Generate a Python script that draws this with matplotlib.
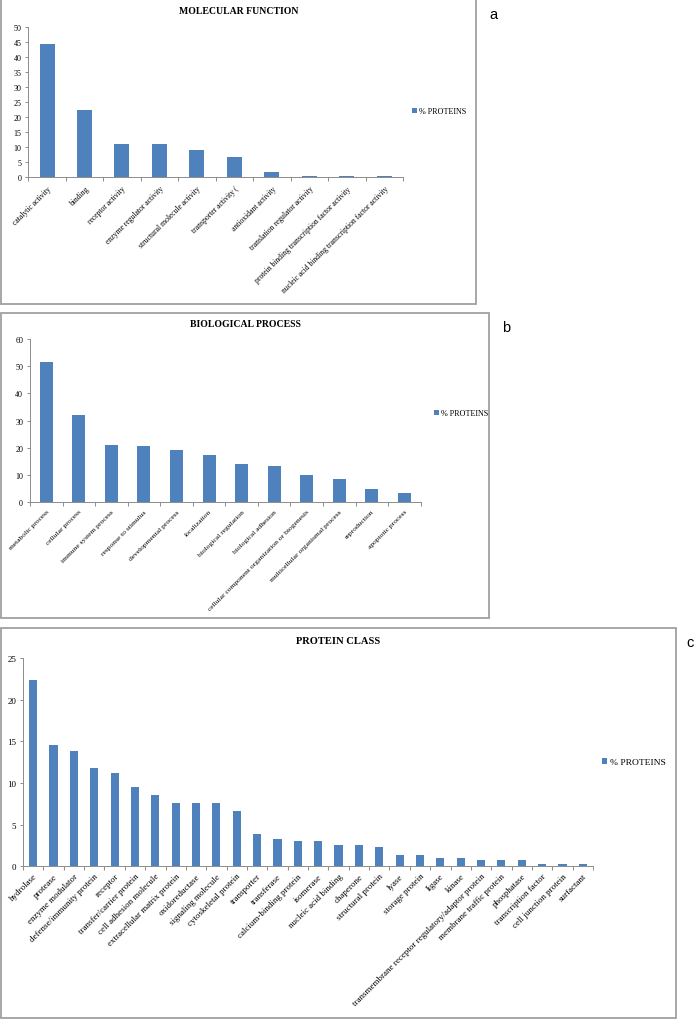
import matplotlib
matplotlib.use("Agg")
import matplotlib.pyplot as plt
from matplotlib.patches import Rectangle
from matplotlib.transforms import Bbox, TransformedBbox
import numpy as np

# ---------------- data ----------------
mf_labels = ["catalytic activity", "binding", "receptor activity",
             "enzyme regulator activity", "structural molecule activity",
             "transporter activity (", "antioxidant activity",
             "translation regulator activity",
             "protein binding transcription factor activity",
             "nucleic acid binding transcription factor activity"]
mf_values = [44.4, 22.4, 11.2, 10.9, 8.9, 6.6, 1.6, 0.4, 0.4, 0.4]

bp_labels = ["metabolic process", "cellular process", "immune system process",
             "response to stimulus", "developmental process", "localization",
             "biological regulation", "biological adhesion",
             "cellular component organization or biogenesis",
             "multicellular organismal process", "reproduction",
             "apoptotic process"]
bp_values = [51.6, 31.9, 21.1, 20.7, 19.1, 17.1, 13.8, 13.2, 9.9, 8.5, 4.7, 3.2]

pc_labels = ["hydrolase", "protease", "enzyme modulator",
             "defense/immunity protein", "receptor", "transfer/carrier protein",
             "cell adhesion molecule", "extracellular matrix protein",
             "oxidoreductase", "signaling molecule", "cytoskeletal protein",
             "transporter", "transferase", "calcium-binding protein",
             "isomerase", "nucleic acid binding", "chaperone",
             "structural protein", "lyase", "storage protein", "ligase",
             "kinase", "transmembrane receptor regulatory/adaptor protein",
             "membrane traffic protein", "phosphatase",
             "transcription factor", "cell junction protein", "surfactant"]
pc_values = [22.4, 14.5, 13.8, 11.8, 11.2, 9.5, 8.6, 7.6, 7.6, 7.6, 6.6,
             3.9, 3.3, 3.0, 3.0, 2.6, 2.6, 2.3, 1.3, 1.3, 1.0, 1.0,
             0.7, 0.7, 0.7, 0.3, 0.3, 0.3]

titles = ["MOLECULAR FUNCTION", "BIOLOGICAL PROCESS", "PROTEIN CLASS"]
legend_label = "% PROTEINS"
panel_letters = ["a", "b", "c"]

# ---------------- layout ----------------
W, H = 695, 1020
fig = plt.figure(figsize=(W / 100, H / 100), dpi=100)
fig.patch.set_facecolor("white")

SERIF = ["Liberation Serif", "DejaVu Serif"]
SANS = ["Liberation Sans", "DejaVu Sans"]
BAR = "#4F81BD"
AXC = "#8c8c8c"
FRAME = "#a0a0a0"


def fx(x):
    return x / W


def fy(y):
    return 1 - y / H


panels = [
    dict(labels=mf_labels, values=mf_values, frame=(0, 0, 477, 305),
         ax=(28.3, 27.7, 403, 178.3), ymax=50, ystep=5, title_y=12,
         letter=(489, 15), legend=(412, 112), tfs=5.5, yfs=5.8, lfs=5.9,
         ttl=7.0, pad=5),
    dict(labels=bp_labels, values=bp_values, frame=(0, 314, 490, 619),
         ax=(30, 340.3, 420.7, 502.7), ymax=60, ystep=10, title_y=325,
         letter=(502, 328), legend=(434, 414), tfs=5.4, yfs=5.8, lfs=5.9,
         ttl=7.0, pad=5),
    dict(labels=pc_labels, values=pc_values, frame=(0, 629, 677, 1019),
         ax=(23, 659, 593, 867.3), ymax=25, ystep=5, title_y=642,
         letter=(686, 643), legend=(602, 763), tfs=6.4, yfs=6.5, lfs=6.8,
         ttl=7.6, pad=4),
]

for i, p in enumerate(panels):
    x0, y0, x1, y1 = p["frame"]
    rect = Rectangle((fx(x0 + 0.7), fy(y1)), fx(x1 - x0 - 1.4), (y1 - y0) / H,
                     transform=fig.transFigure, fill=False, edgecolor=FRAME,
                     linewidth=1.3, zorder=0)
    fig.patches.append(rect)

    ax_l, ax_t, ax_r, ax_b = p["ax"]
    ax = fig.add_axes([fx(ax_l), fy(ax_b), fx(ax_r - ax_l), (ax_b - ax_t) / H])
    n = len(p["labels"])
    x = np.arange(n)
    bars = ax.bar(x, p["values"], width=0.4, color=BAR, label=legend_label,
                  zorder=2)
    ax.set_xlim(-0.5, n - 0.5)
    ax.set_ylim(0, p["ymax"])
    yt = np.arange(0, p["ymax"] + 0.1, p["ystep"])
    ax.set_yticks(yt)
    ax.set_yticklabels([str(int(v)) for v in yt], family=SERIF,
                       fontsize=p["yfs"])
    ax.set_xticks(x)
    ax.set_xticklabels(p["labels"], rotation=45, ha="right",
                       rotation_mode="anchor", family=SERIF, fontsize=p["tfs"])
    ax.set_xticks(np.arange(-0.5, n, 1.0), minor=True)
    ax.tick_params(axis="x", which="major", length=0, pad=p["pad"])
    ax.tick_params(axis="x", which="minor", length=3, color=AXC, width=0.7)
    ax.tick_params(axis="y", which="major", length=2.5, color=AXC, width=0.7,
                   pad=2.5)
    for s in ["top", "right"]:
        ax.spines[s].set_visible(False)
    for s in ["left", "bottom"]:
        ax.spines[s].set_color(AXC)
        ax.spines[s].set_linewidth(0.7)
    ax.set_facecolor("none")

    clip = TransformedBbox(Bbox([[fx(x0), fy(y1)], [fx(x1), fy(y0)]]),
                           fig.transFigure)
    for t in ax.get_xticklabels():
        t.set_clip_box(clip)
        t.set_clip_on(True)

    fig.text(fx((x0 + x1) / 2), fy(p["title_y"]), titles[i], ha="center",
             va="center", family=SERIF, fontsize=p["ttl"], fontweight="bold")
    fig.text(fx(p["letter"][0]), fy(p["letter"][1]), panel_letters[i],
             ha="left", va="center", family=SANS, fontsize=10.5)

    lx, ly = p["legend"]
    ax.legend(handles=[bars], labels=[legend_label], loc="center left",
              bbox_to_anchor=(fx(lx), fy(ly)), bbox_transform=fig.transFigure,
              frameon=False, handlelength=0.55, handleheight=0.55,
              handletextpad=0.3, borderpad=0, borderaxespad=0,
              prop={"family": SERIF, "size": p["lfs"]})

fig.savefig("out.png", dpi=100, facecolor="white")
